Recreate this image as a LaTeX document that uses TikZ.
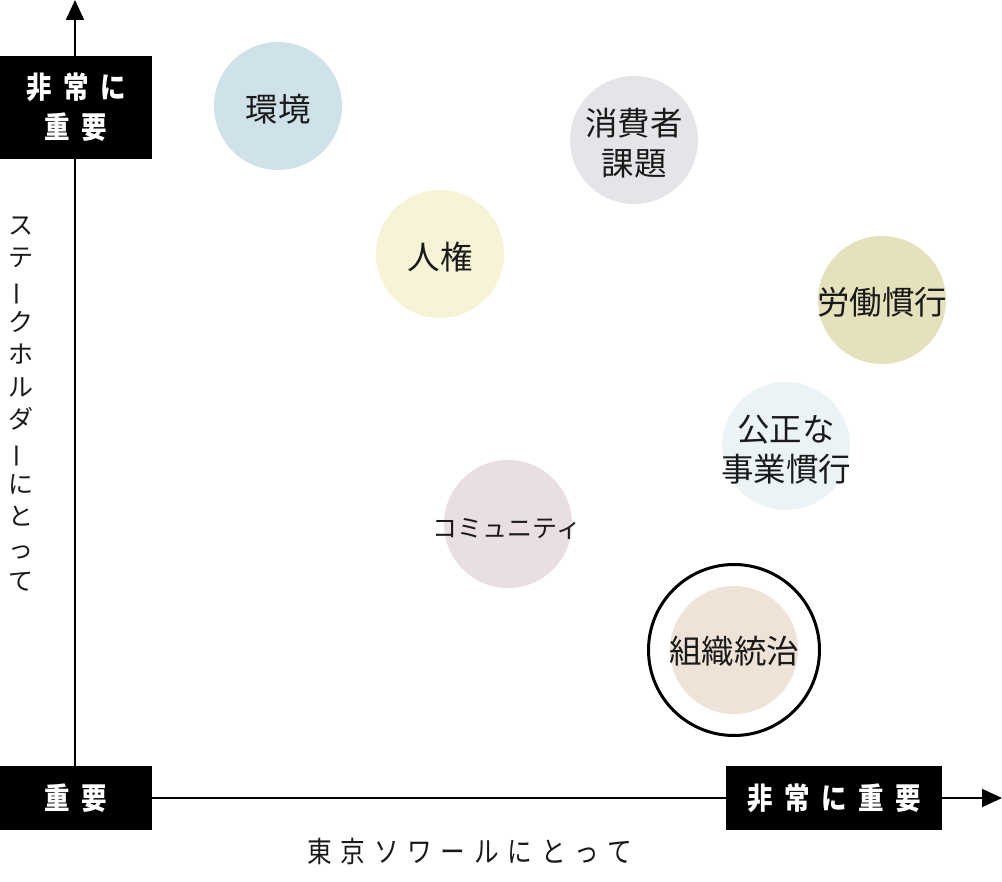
\documentclass[tikz,border=0pt]{standalone}
\usepackage{fontspec}
\setmainfont{Noto Sans CJK JP}
\newfontfamily\narrowfont[FakeStretch=0.85]{Noto Sans CJK JP}
\usetikzlibrary{arrows.meta}
\definecolor{cEnv}{HTML}{CFE1E9}
\definecolor{cCons}{HTML}{E3E5E8}
\definecolor{cHR}{HTML}{F6F3D6}
\definecolor{cLab}{HTML}{E6E1BD}
\definecolor{cFair}{HTML}{EBF3F7}
\definecolor{cCom}{HTML}{EADEE5}
\definecolor{cGov}{HTML}{EEE3D6}
\definecolor{txt}{HTML}{1A1A1A}
\newcommand\bgap{\kern11.5pt}
\newcommand\xgap{\kern8.7pt}
\tikzset{
  bubble/.style={circle, minimum size=128pt, inner sep=0pt, draw=none},
  btxt/.style={font=\fontsize{32.5}{40}\selectfont, align=center, text=txt, inner sep=0pt},
  smalltxt/.style={font=\fontsize{25}{30}\selectfont, align=center, text=txt, inner sep=0pt},
  blackbox/.style={fill=black, text=white, inner sep=0pt, align=center,
    font=\narrowfont\bfseries\fontsize{30}{40}\selectfont},
  axisline/.style={line width=2pt, -{Triangle[length=20pt,width=18pt]}},
  axlabel/.style={text=txt, inner sep=0pt, align=center},
  ring/.style={circle, draw=black, line width=3pt, minimum size=171pt, inner sep=0pt}
}
\begin{document}
\begin{tikzpicture}[x=1pt,y=-1pt]
\useasboundingbox (0,0) rectangle (1002,882);
% axis anchors
\coordinate (ytip) at (75,0);
\coordinate (xtip) at (1002,798);
\coordinate (origin) at (75,798);
\draw[axisline] (origin) -- (ytip);
\draw[axisline] (origin) -- (xtip);
% boxes
\node[blackbox, minimum width=152pt, minimum height=103pt] (yhigh) at (76,107.5) {非\bgap 常\bgap に\\重\bgap 要};
\node[blackbox, minimum width=152pt, minimum height=64pt] (lowb) at (76,798) {重\bgap 要};
\node[blackbox, minimum width=216pt, minimum height=64pt] (xhigh) at (834,798) {非\bgap 常\bgap に\bgap 重\bgap 要};
% axis labels
\node[axlabel, font=\narrowfont\fontsize{29}{30}\selectfont] (xlab) at (470,851) {東\xgap 京\xgap ソ\xgap ワ\xgap ー\xgap ル\xgap に\xgap と\xgap っ\xgap て};
\node[axlabel, font=\fontsize{25}{32.4}\selectfont] (ylab) at (21,404) {ス\\テ\\\rotatebox[origin=c]{90}{ー}\\ク\\ホ\\ル\\ダ\\\rotatebox[origin=c]{90}{ー}\\に\\と\\っ\\て};
% bubbles
\node[bubble, fill=cEnv] (envc) at (278,106) {};
\node[btxt] (env) at (278,109) {環境};
\node[bubble, fill=cCons] (consc) at (634,140) {};
\node[btxt] (cons) at (634,143.5) {消費者\\課題};
\node[bubble, fill=cHR] (hrc) at (440,254) {};
\node[btxt] (hr) at (440,257) {人権};
\node[bubble, fill=cLab] (labc) at (882,300) {};
\node[btxt] (lab) at (882,302.5) {労働慣行};
\node[bubble, fill=cFair] (fairc) at (786,446) {};
\node[btxt] (fair) at (786,450) {公正な\\事業慣行};
\node[bubble, fill=cCom] (comc) at (508,524) {};
\node[smalltxt] (com) at (507,529) {コミュニティ};
\node[ring] (govring) at (734,650) {};
\node[bubble, fill=cGov] (govc) at (734,650) {};
\node[btxt] (gov) at (734,651) {組織統治};
\end{tikzpicture}
\end{document}
